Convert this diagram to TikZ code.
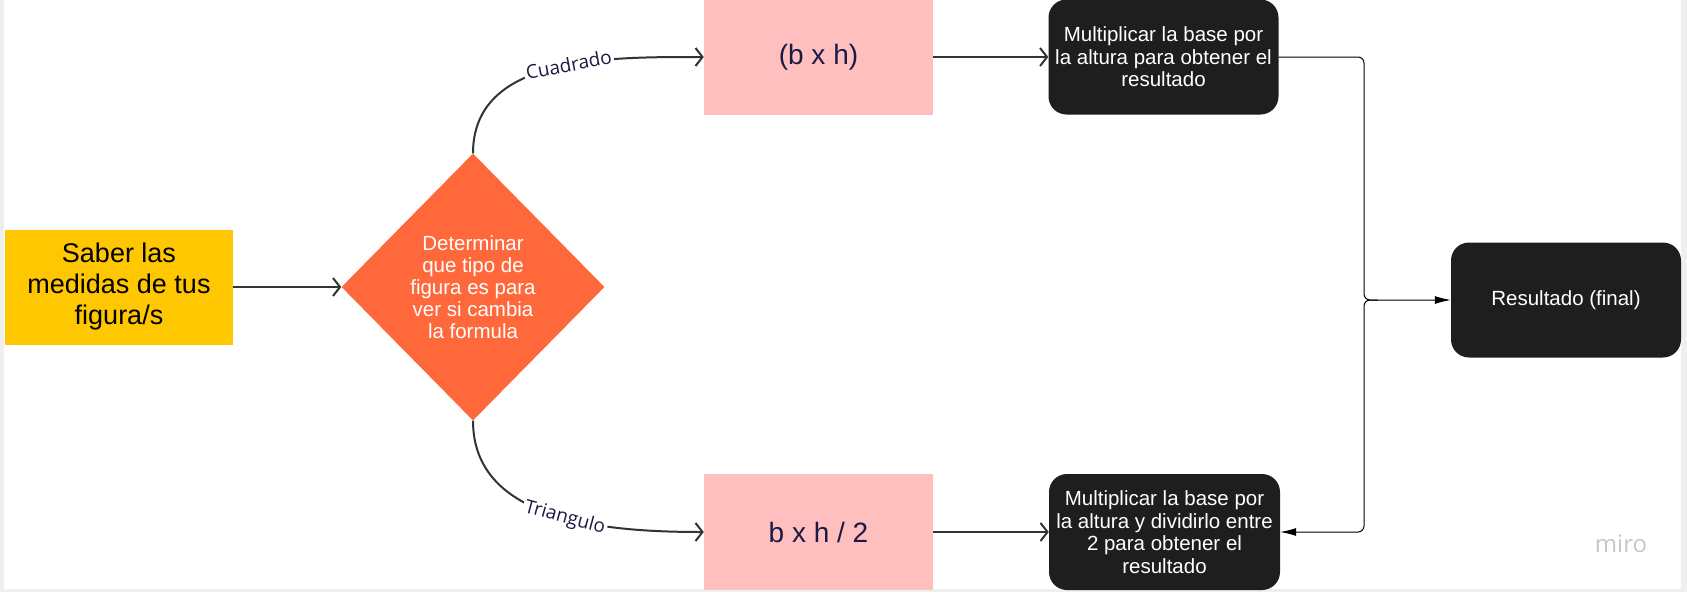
\documentclass[tikz,border=0pt]{standalone}
\usepackage{fontspec}
\setmainfont{Liberation Sans}
\newfontfamily\lblfont{Open Sans}
\usetikzlibrary{shapes.geometric,arrows.meta}
\definecolor{bgframe}{HTML}{EFEFEF}
\definecolor{yel}{HTML}{FFC700}
\definecolor{ora}{HTML}{FF683B}
\definecolor{pinkc}{HTML}{FFBFBF}
\definecolor{blk}{HTML}{1E1E1E}
\definecolor{navy}{HTML}{1A1A45}
\definecolor{lineg}{HTML}{333333}
\definecolor{mirogray}{HTML}{C6C6D2}
\begin{document}
\begin{tikzpicture}[x=1pt,y=-1pt,
  box/.style={inner sep=0pt, align=center},
  yellowbox/.style={box, fill=yel, minimum width=228pt, minimum height=115pt, font=\fontsize{27}{31}\selectfont},
  decision/.style={box, diamond, fill=ora, text=white, minimum width=263pt, minimum height=267pt, font=\fontsize{20.5}{22}\selectfont},
  pinkbox/.style={box, fill=pinkc, text=navy, minimum width=229pt, minimum height=115pt, font=\fontsize{28}{32}\selectfont},
  blackbox/.style={box, fill=blk, text=white, rounded corners=18pt, minimum width=230pt, minimum height=115pt, font=\fontsize{20.5}{22.6}\selectfont},
  flow/.style={draw=lineg, line width=2pt, -{Straight Barb[length=7pt,width=18pt,line width=2pt]}},
  thin/.style={draw=black, line width=1pt, rounded corners=6pt},
  thinarrow/.style={-{Latex[length=16pt,width=8pt]}},
  lbl/.style={fill=white, inner sep=2pt, text=navy, font=\lblfont\fontsize{19}{22}\selectfont}
]
\useasboundingbox (0,0) rectangle (1687,592);
\fill[bgframe] (0,0) rectangle (1687,592);
\fill[white] (4,0) rectangle (1681,589);

\node[yellowbox] (saber) at (119,287) {Saber las\\medidas de tus\\figura/s};
\node[decision] (det) at (473,287) {Determinar\\que tipo de\\figura es para\\ver si cambia\\la formula};
\node[pinkbox] (sq) at (818.5,57) {(b x h)};
\node[pinkbox, minimum height=116pt] (tri) at (818.5,532) {b x h / 2};
\node[blackbox] (mulsq) at (1163.5,57) {Multiplicar la base por\\la altura para obtener el\\resultado};
\node[blackbox, minimum width=231pt, minimum height=116pt] (multri) at (1164.5,532) {Multiplicar la base por\\la altura y dividirlo entre\\2 para obtener el\\resultado};
\node[blackbox] (res) at (1566,300) {Resultado (final)};
\node[text=mirogray, font=\lblfont\fontsize{24}{28}\selectfont] (miro) at (1621,544) {miro};

\draw[flow] (saber.east) -- (det.west);
\draw[flow] (det.north) to[out=90,in=180] node[lbl, pos=0.56, sloped] {Cuadrado} (sq.west);
\draw[flow] (det.south) to[out=-90,in=180] node[lbl, pos=0.55, sloped] {Triangulo} (tri.west);
\draw[flow] (sq.east) -- (mulsq.west);
\draw[flow] (tri.east) -- (multri.west);

\coordinate (jtop) at (1364,57);
\coordinate (jmid) at (1364,300);
\coordinate (jstart) at (1378,300);
\coordinate (jbot) at (1364,532);
\draw[thin, thinarrow] (mulsq.east) -- (jtop) -- (jmid) -- (res.west);
\draw[thin, thinarrow] (jstart) -- (jmid) -- (jbot) -- (multri.east);
\end{tikzpicture}
\end{document}
